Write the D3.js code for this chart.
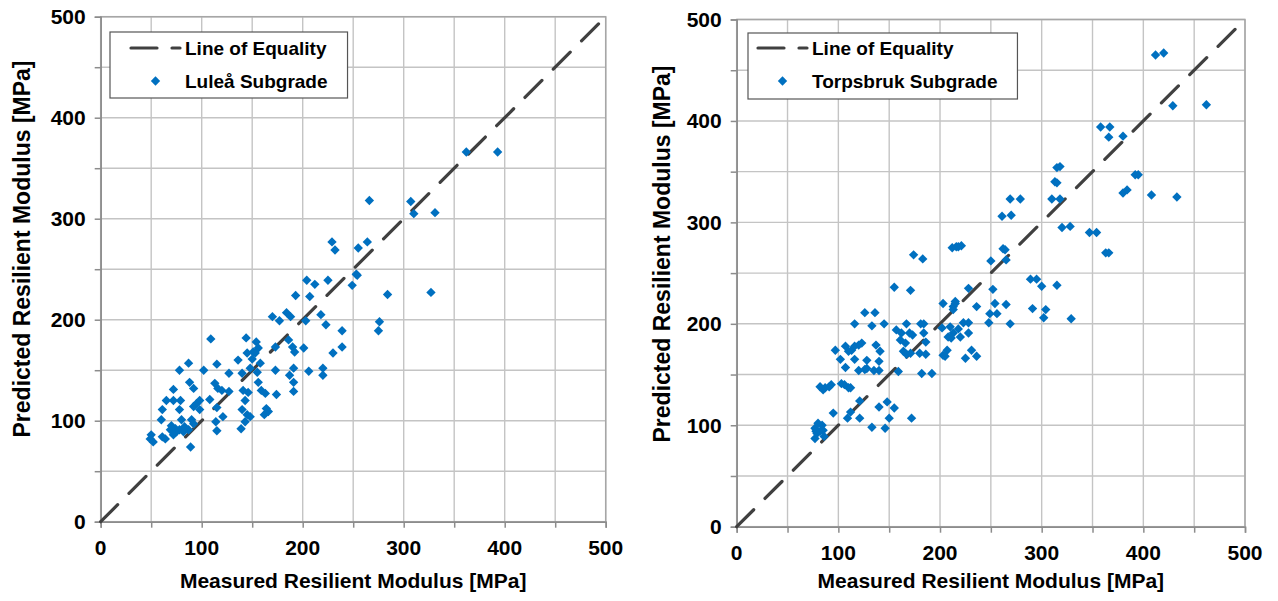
<!DOCTYPE html>
<html>
<head>
<meta charset="utf-8">
<script src="https://cdnjs.cloudflare.com/ajax/libs/d3/7.8.5/d3.min.js"></script>
<style>
  html, body { margin: 0; padding: 0; background: #ffffff; }
  svg { display: block; }
  text { font-family: "Liberation Sans", Arial, sans-serif; }
</style>
</head>
<body>
<svg id="chart" width="1278" height="601"></svg>
<script>
// ---------------- DATA ----------------
const axisTicks = [0, 100, 200, 300, 400, 500];
const gridTicks = [0, 50, 100, 150, 200, 250, 300, 350, 400, 450, 500];
const equalityLine = [[0, 0], [500, 500]];
const xTitle = "Measured Resilient Modulus [MPa]";
const yTitle = "Predicted Resilient Modulus [MPa]";
const legendLineLabel = "Line of Equality";
const luleaLabel = "Luleå Subgrade";
const torpsLabel = "Torpsbruk Subgrade";

// Luleå subgrade: [measured, predicted]
const luleaPoints = [
  [109,181],[87,157],[78,150],[102,150],[115,156],[127,147],[88,138],[92,132],[72,131],[113,137],
  [116,132],[120,130],[127,129],[108,121],[115,113],[65,120],[72,120],[79,120],[98,120],[95,117],
  [92,114],[98,111],[61,111],[78,111],[60,101],[80,101],[90,101],[92,97],[87,91],[70,95],
  [69,91],[74,92],[75,89],[78,91],[72,86],[82,89],[83,94],[50,86],[52,79],[49,82],
  [61,84],[64,82],[89,74],[115,90],[114,99],[121,104],[139,92],[140,111],[145,106],[148,104],
  [143,120],[146,128],[136,160],[140,147],[144,182],[148,152],[145,167],[154,178],[156,172],[153,167],
  [158,157],[156,138],[159,130],[163,127],[164,112],[166,109],[151,168],[150,161],[186,180],[190,173],
  [192,168],[201,172],[173,173],[191,152],[187,145],[191,138],[191,129],[173,150],[206,149],[220,152],
  [220,145],[155,148],[174,126],[266,318],[307,317],[310,305],[229,277],[232,269],[255,271],[264,277],
  [204,239],[212,235],[225,239],[193,224],[207,223],[249,234],[253,245],[254,244],[284,225],[170,203],
  [177,199],[184,207],[188,203],[218,205],[223,195],[203,199],[239,189],[239,173],[276,198],[275,189],
  [230,167],[362,366],[393,366],[331,306],[327,227],[162,106],[143,99],[141,130]
];

// Torpsbruk subgrade: [measured, predicted]
const torpsPoints = [
  [77,97],[80,102],[84,100],[79,92],[82,94],[85,95],[77,87],[86,89],[78,94],
  [82,138],[85,135],[87,137],[91,138],[93,140],
  [103,141],[106,140],[110,137],[112,137],[95,112],
  [97,174],[102,165],[107,157],[107,178],[110,173],[113,174],[116,178],[120,179],[123,181],[116,165],
  [109,107],[112,113],[121,124],[121,107],
  [116,200],[126,211],[136,211],[133,198],[145,200],
  [128,164],[120,154],[126,155],[128,156],[135,154],[140,154],[140,163],[141,173],[137,179],
  [140,118],[148,123],[155,117],[150,107],[133,98],[146,97],[172,107],[159,153],
  [157,194],[162,191],[161,184],[166,181],[170,191],[173,189],[164,173],[167,170],[171,171],
  [167,200],[181,200],[184,200],[184,191],[186,182],[180,171],[186,170],[182,151],[192,151],
  [203,220],[213,217],[215,222],
  [202,196],[210,197],[208,187],[203,169],[207,174],[213,191],[220,187],[223,201],[228,201],[228,191],
  [231,174],[225,166],[236,168],[236,217],[211,186],[218,195],[205,168],
  [318,355],[315,354],[313,340],[315,339],[310,323],[318,323],[320,295],[328,296],
  [269,323],[279,323],[261,306],[270,307],
  [262,274],[264,273],[265,263],[250,262],
  [212,275],[218,276],[221,277],[216,276],[174,268],[183,264],
  [155,236],[171,233],[228,235],[252,234],
  [289,244],[295,244],[300,237],[315,238],
  [215,220],[213,214],[254,220],[265,219],[291,215],[304,214],[302,206],[329,205],[269,200],[256,210],
  [249,210],[248,201],
  [412,465],[420,467],[429,415],[462,416],
  [358,394],[367,394],[366,384],[380,385],
  [392,347],[395,347],[380,329],[384,332],[408,327],[433,325],
  [347,290],[354,290],[363,270],[366,270]
];

// ---------------- STYLE ----------------
const BLUE = "#0070C0";
const DARK = "#404040";
const GRID = "#c4c4c4";
const AXIS = "#8c8c8c";

const svg = d3.select("#chart");
svg.append("rect").attr("width", 1278).attr("height", 601).attr("fill", "#fff");

const diamond = d3.symbol().type(d3.symbolDiamond2).size(56);

function drawPanel(cfg) {
  const x = d3.scaleLinear().domain([0, 500]).range([cfg.left, cfg.right]);
  const y = d3.scaleLinear().domain([0, 500]).range([cfg.bottom, cfg.top]);
  const g = svg.append("g");

  // grid
  g.append("g").selectAll("line.v").data(gridTicks).join("line")
    .attr("x1", d => x(d)).attr("x2", d => x(d))
    .attr("y1", y(0)).attr("y2", y(500))
    .attr("stroke", GRID).attr("stroke-width", 1.4);
  g.append("g").selectAll("line.h").data(gridTicks).join("line")
    .attr("y1", d => y(d)).attr("y2", d => y(d))
    .attr("x1", x(0)).attr("x2", x(500))
    .attr("stroke", GRID).attr("stroke-width", 1.4);

  // frame (top/right)
  g.append("rect")
    .attr("x", x(0)).attr("y", y(500))
    .attr("width", x(500) - x(0)).attr("height", y(0) - y(500))
    .attr("fill", "none").attr("stroke", "#a6a6a6").attr("stroke-width", 1.5);

  // axes
  const xAxis = d3.axisBottom(x).tickValues(gridTicks).tickSize(6).tickFormat("");
  const yAxis = d3.axisLeft(y).tickValues(gridTicks).tickSize(6).tickFormat("");
  const gx = g.append("g").attr("transform", `translate(0,${y(0)})`).call(xAxis);
  const gy = g.append("g").attr("transform", `translate(${x(0)},0)`).call(yAxis);
  [gx, gy].forEach(a => {
    a.select(".domain").attr("stroke", AXIS).attr("stroke-width", 1.5);
    a.selectAll(".tick line").attr("stroke", AXIS).attr("stroke-width", 1.5);
  });

  // tick labels
  g.append("g").selectAll("text").data(axisTicks).join("text")
    .attr("x", d => x(d)).attr("y", y(0) + 33)
    .attr("text-anchor", "middle")
    .attr("font-size", 21).attr("font-weight", "bold").attr("fill", "#000")
    .text(d => d);
  g.append("g").selectAll("text").data(axisTicks).join("text")
    .attr("x", x(0) - 15).attr("y", d => y(d) + 7.5)
    .attr("text-anchor", "end")
    .attr("font-size", 21).attr("font-weight", "bold").attr("fill", "#000")
    .text(d => d);

  // axis titles
  g.append("text")
    .attr("x", (x(0) + x(500)) / 2).attr("y", 588)
    .attr("text-anchor", "middle")
    .attr("font-size", 21).attr("font-weight", "bold").attr("fill", "#000")
    .text(xTitle);
  g.append("text")
    .attr("transform", `translate(${cfg.ytx},${cfg.ytc}) rotate(-90)`)
    .attr("text-anchor", "middle")
    .attr("font-size", 23).attr("font-weight", "bold").attr("fill", "#000")
    .text(yTitle);

  // equality line
  g.append("path")
    .datum(equalityLine)
    .attr("d", d3.line().x(d => x(d[0])).y(d => y(d[1])))
    .attr("fill", "none").attr("stroke", DARK).attr("stroke-width", 3.2)
    .attr("stroke-linecap", "round").attr("stroke-dasharray", "24,16");

  // points
  g.append("g").selectAll("path").data(cfg.points).join("path")
    .attr("d", diamond)
    .attr("transform", d => `translate(${x(d[0])},${y(d[1])})`)
    .attr("fill", BLUE);

  // legend
  const lg = g.append("g");
  const L = cfg.legend;
  const t1 = lg.append("text").attr("x", L.tx).attr("y", L.y1 + 6.5)
    .attr("font-size", 19).attr("font-weight", "bold").attr("fill", "#000").text(legendLineLabel);
  const t2 = lg.append("text").attr("x", L.tx).attr("y", L.y2 + 6.5)
    .attr("font-size", 19).attr("font-weight", "bold").attr("fill", "#000").text(cfg.label);
  const w = Math.max(t1.node().getComputedTextLength(), t2.node().getComputedTextLength());
  lg.insert("rect", "text")
    .attr("x", L.bx).attr("y", L.by)
    .attr("width", (L.tx + w + 20) - L.bx).attr("height", L.bh)
    .attr("fill", "#fff").attr("stroke", "#555").attr("stroke-width", 1.2);
  lg.append("line")
    .attr("x1", L.lx1).attr("x2", L.lx2).attr("y1", L.y1).attr("y2", L.y1)
    .attr("stroke", DARK).attr("stroke-width", 3.2).attr("stroke-linecap", "round")
    .attr("stroke-dasharray", "26,15");
  lg.append("path").attr("d", diamond)
    .attr("transform", `translate(${(L.lx1 + L.lx2) / 2},${L.y2})`)
    .attr("fill", BLUE);
}

drawPanel({
  left: 100.7, right: 605.7, bottom: 521.7, top: 16.7, ytx: 30, ytc: 249,
  points: luleaPoints, label: luleaLabel,
  legend: { bx: 110, by: 32, bh: 66, lx1: 131, lx2: 180, tx: 185, y1: 48, y2: 81 }
});
drawPanel({
  left: 736.7, right: 1245, bottom: 526.7, top: 19.5, ytx: 670, ytc: 254,
  points: torpsPoints, label: torpsLabel,
  legend: { bx: 748, by: 33, bh: 66, lx1: 758, lx2: 807, tx: 812, y1: 48, y2: 81 }
});
</script>
</body>
</html>
